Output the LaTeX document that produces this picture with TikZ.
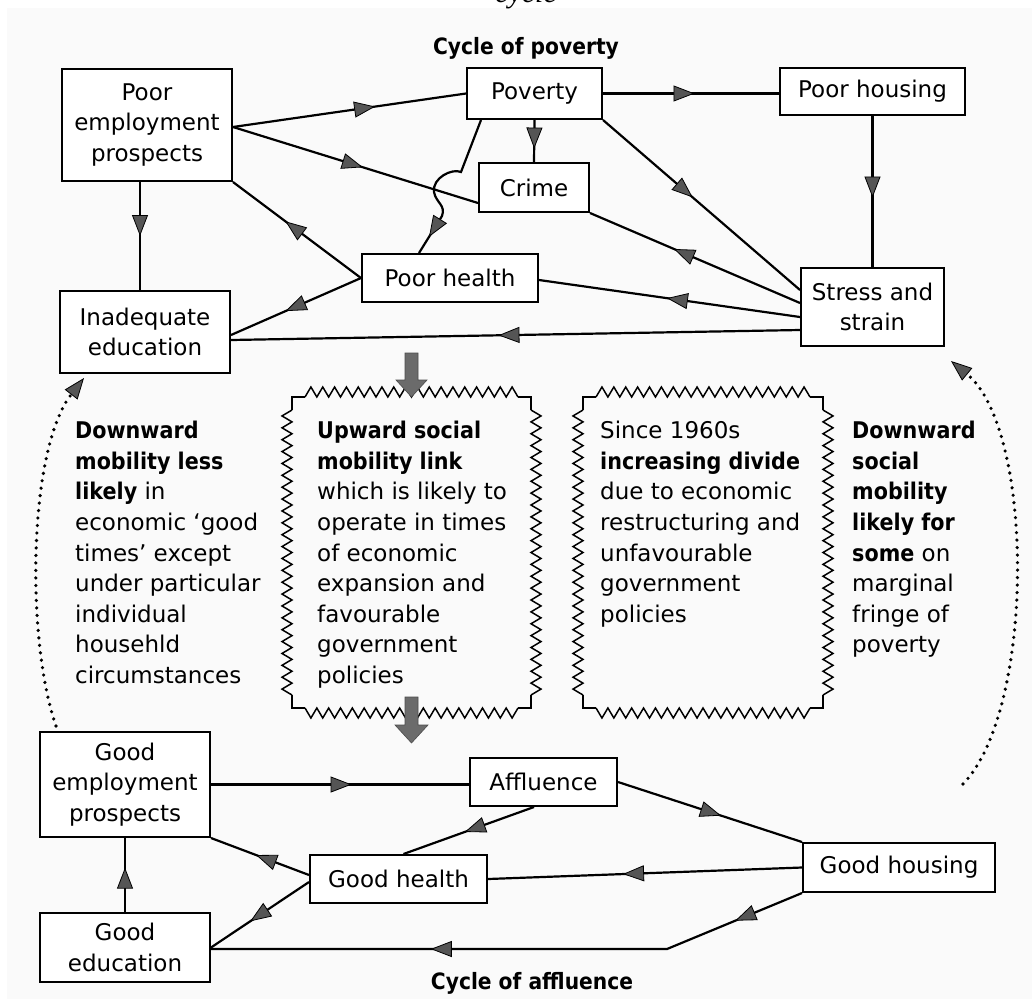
\documentclass[tikz,border=0pt]{standalone}
\usepackage{fontspec}
\setmainfont{DejaVu Sans}[BoldFeatures={FakeStretch=0.9}]
\newfontfamily\serifit{Liberation Serif}
\usetikzlibrary{arrows.meta,decorations.markings,calc}
\definecolor{headgray}{HTML}{555555}
\definecolor{bggray}{HTML}{FAFAFA}
\tikzset{
  hd/.tip={Triangle[length=21pt,width=16pt,fill=headgray,line width=0.8pt]},
  box/.style={draw=black, line width=2pt, fill=white, inner sep=0pt, align=center,
    font=\fontsize{23}{30.5}\selectfont},
  conn/.style={draw=black, line width=2.2pt},
  midarrow/.style={postaction={decorate,decoration={markings,mark=at position #1 with {\arrow{hd}}}}},
  dots/.style={line width=3.6pt, line cap=round, dash pattern=on 0pt off 7.5pt},
  txt/.style={inner sep=0pt, align=left, anchor=north west, font=\fontsize{23}{30.6}\selectfont},
  zz/.style={line width=1.5pt, line join=miter},
  bigarrow/.style={fill=black!58, draw=black!70, line width=0.6pt},
  cyc/.style={font=\bfseries\fontsize{22.5}{26}\selectfont, inner sep=0pt},
}
\newcommand{\zzhor}[4]{%
  \pgfmathsetmacro{\zzL}{(#2)-(#1)}%
  \pgfmathtruncatemacro{\zzN}{round(abs(\zzL)/12)}%
  \pgfmathsetmacro{\zzS}{\zzL/\zzN}%
  \draw[zz] ({#1},{#3}) \foreach \k in {1,...,\zzN}{ -- ({#1+(\k-0.5)*\zzS},{#3+#4}) -- ({#1+\k*\zzS},{#3})};%
}
\newcommand{\zzver}[4]{%
  \pgfmathsetmacro{\zzL}{(#2)-(#1)}%
  \pgfmathtruncatemacro{\zzN}{round(abs(\zzL)/12)}%
  \pgfmathsetmacro{\zzS}{\zzL/\zzN}%
  \draw[zz] ({#3},{#1}) \foreach \k in {1,...,\zzN}{ -- ({#3+#4},{#1+(\k-0.5)*\zzS}) -- ({#3},{#1+\k*\zzS})};%
}
\newcommand{\zzbox}[4]{%
  \draw[zz] (#1,#2+13) -- (#1,#2) -- (#1+13,#2);
  \draw[zz] (#3-13,#2) -- (#3,#2) -- (#3,#2+13);
  \draw[zz] (#3,#4-13) -- (#3,#4) -- (#3-13,#4);
  \draw[zz] (#1+13,#4) -- (#1,#4) -- (#1,#4-13);
  \zzhor{#1+13}{#3-13}{#2}{-10}
  \zzhor{#1+13}{#3-13}{#4}{10}
  \zzver{#2+13}{#4-13}{#1}{-10}
  \zzver{#2+13}{#4-13}{#3}{10}
}
\begin{document}
\begin{tikzpicture}[x=1pt,y=-1pt]
\useasboundingbox (0,0) rectangle (1032,999);
\fill[bggray] (7,8) rectangle (1032,999);
\node[font=\serifit\itshape\fontsize{30}{34}\selectfont, anchor=base, inner sep=0pt] (topcyc) at (526,2) {cycle};

% top cycle boxes
\node[box, minimum width=170, minimum height=112] (pep) at (147,125) {Poor\\employment\\prospects};
\node[box, minimum width=135, minimum height=51] (pov) at (534.5,93.5) {Poverty};
\node[box, minimum width=185, minimum height=47] (phs) at (872.5,91.5) {Poor housing};
\node[box, minimum width=110, minimum height=49] (crime) at (534,187.5) {Crime};
\node[box, minimum width=176, minimum height=48] (phealth) at (450,278) {Poor health};
\node[box, minimum width=170, minimum height=82] (ied) at (145,332) {Inadequate\\education};
\node[box, minimum width=143, minimum height=78] (stress) at (872.5,307) {Stress and\\strain};
\node[cyc] (cpov) at (526,48) {Cycle of poverty};

% top connectors
\draw[conn, midarrow=0.61] ($(pep.east)+(0,2)$) -- (pov.west);
\draw[conn, midarrow=0.53] ($(pep.east)+(0,2)$) -- ($(crime.south west)+(0,-10)$);
\draw[conn, midarrow=0.5] ($(pep.south)+(-7,0)$) -- ($(ied.north)+(-5,0)$);
\draw[conn, midarrow=0.59] (phealth.west) -- (pep.south east);
\draw[conn, midarrow=0.58] (phealth.west) -- ($(ied.east)+(0,3)$);
\draw[conn, midarrow=0.53] ($(stress.west)+(0,23)$) -- ($(ied.east)+(0,8)$);
\draw[conn, midarrow=0.51] ($(stress.west)+(0,10)$) -- ($(phealth.east)+(0,2)$);
\draw[conn, midarrow=0.6] ($(stress.west)+(0,-4)$) -- (crime.south east);
\draw[conn, midarrow=0.455] (pov.south east) -- ($(stress.west)+(0,-17)$);
\draw[conn, midarrow=0.52] (pov.east) -- (pov.east -| phs.west);
\draw[conn, midarrow=0.54] (phs.south) -- (stress.north);
\draw[conn, midarrow=0.68] (pov.south) -- (crime.north);
\draw[conn, midarrow=-19pt] ($(pov.south west)+(15,0)$) -- (461,172)
  .. controls (452,168) and (432,178) .. (434,192)
  .. controls (436,203) and (446,205) .. (442,216) -- ($(phealth.north west)+(58,0)$);

% middle
\zzbox{292}{397}{531}{708}
\zzbox{583}{397}{823}{708}
\draw[bigarrow] (405,353) -- (418,353) -- (418,380) -- (427,380) -- (411.5,397) -- (396,380) -- (405,380) -- cycle;
\draw[bigarrow] (405,697) -- (418,697) -- (418,725) -- (428,725) -- (411.5,743) -- (395,725) -- (405,725) -- cycle;

\node[txt] (tleft) at (75,421) {\textbf{Downward}\\\textbf{mobility less}\\\textbf{likely} in\\economic ‘good\\times’ except\\under particular\\individual\\househld\\circumstances};
\node[txt] (tup) at (317,421) {\textbf{Upward social}\\\textbf{mobility link}\\which is likely to\\operate in times\\of economic\\expansion and\\favourable\\government\\policies};
\node[txt] (tdiv) at (600,421) {Since 1960s\\\textbf{increasing divide}\\due to economic\\restructuring and\\unfavourable\\government\\policies};
\node[txt] (tright) at (852,421) {\textbf{Downward}\\\textbf{social}\\\textbf{mobility}\\\textbf{likely for}\\\textbf{some} on\\marginal\\fringe of\\poverty};

% bottom cycle boxes
\node[box, minimum width=170, minimum height=105] (gep) at (125,784.5) {Good\\employment\\prospects};
\node[box, minimum width=170, minimum height=69] (ged) at (125,947.5) {Good\\education};
\node[box, minimum width=177, minimum height=48] (ghealth) at (398.5,879) {Good health};
\node[box, minimum width=147, minimum height=48] (aff) at (543.5,782) {Affluence};
\node[box, minimum width=192, minimum height=49] (ghousing) at (899,867.5) {Good housing};
\node[cyc] (caff) at (532,983) {Cycle of affluence};

% dotted mobility arrows
\draw[dots, -{Triangle[length=21pt,width=16pt,fill=headgray,line width=0.8pt]}]
  ($(gep.north west)+(17,-5)$) .. controls (26,640) and (28,450) .. ($(ied.south west)+(25,4)$);
\draw[dots, -{Triangle[length=21pt,width=16pt,fill=headgray,line width=0.8pt]}]
  ($(ghousing.north east)+(-33,-58)$) .. controls (1035,710) and (1035,430) .. ($(stress.south east)+(6,14)$);

% bottom connectors
\draw[conn, midarrow=0.545] (gep.east) -- (gep.east -| aff.west);
\draw[conn, midarrow=0.53] ($(aff.south west)+(65,0)$) -- ($(ghealth.north)+(5,0)$);
\draw[conn, midarrow=0.56] (aff.east) -- (ghousing.north west);
\draw[conn, midarrow=0.57] (ghousing.west) -- (ghealth.east);
\coordinate (bend) at (667,949);
\draw[conn, postaction={decorate,decoration={markings,
    mark=at position 0.12 with {\arrow{hd}},
    mark=at position 0.635 with {\arrow{hd}}}}]
  (ghousing.south west) -- (bend) -- (bend -| ged.east);
\draw[conn, midarrow=0.54] ($(ghealth.west)+(0,-4)$) -- (gep.south east);
\draw[conn, midarrow=0.6] ($(ghealth.west)+(0,3)$) -- (ged.east);
\draw[conn, midarrow=0.6] (ged.north) -- (gep.south);
\end{tikzpicture}
\end{document}
